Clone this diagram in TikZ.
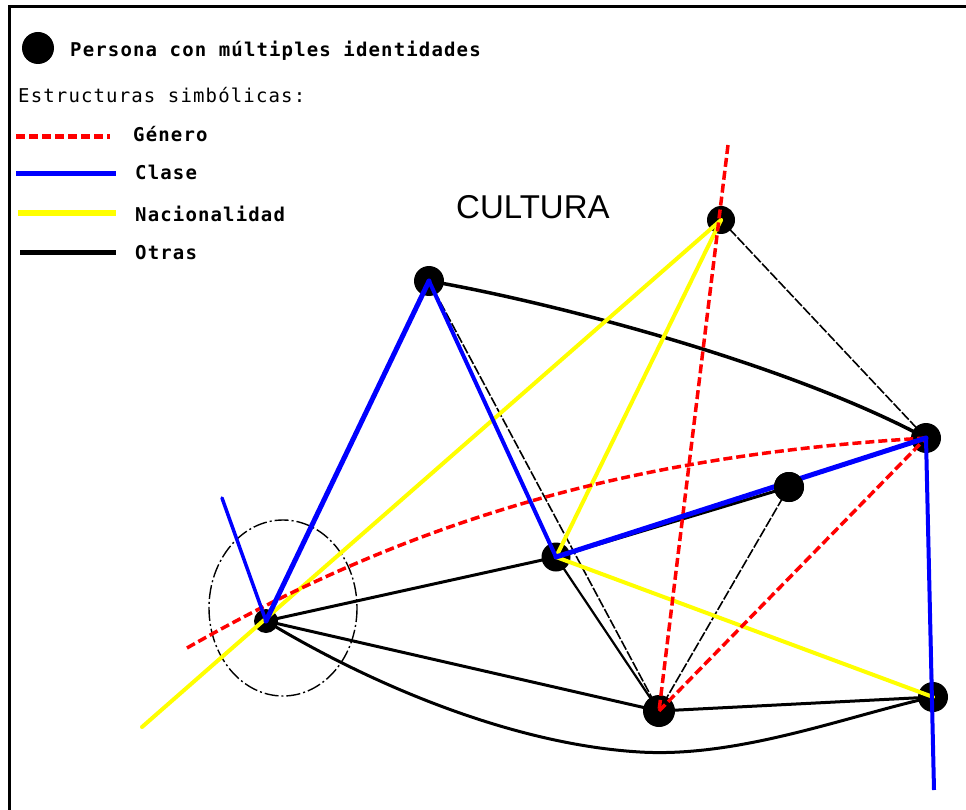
\documentclass[tikz,border=0pt]{standalone}
\usepackage{fontspec}
\newfontfamily\monof[LetterSpace=6]{DejaVu Sans Mono}
\newfontfamily\sansf{Liberation Sans}
\definecolor{gred}{RGB}{255,0,0}
\definecolor{cblue}{RGB}{0,0,255}
\definecolor{nyel}{RGB}{255,255,0}
\tikzset{
  person/.style={circle,fill=black,inner sep=0pt,minimum size=30pt},
  genero/.style={gred,line width=3.5pt,dash pattern=on 9pt off 4pt},
  clase/.style={cblue,line width=4.5pt,line cap=round},
  nacion/.style={nyel,line width=4pt,line cap=round},
  otras/.style={black,line width=3pt},
  otrasthin/.style={black,line width=1.6pt,dash pattern=on 10pt off 2pt},
  legtext/.style={anchor=base west,inner sep=0pt,font=\monof\fontsize{19}{19}\selectfont},
  legbold/.style={anchor=base west,inner sep=0pt,font=\monof\bfseries\fontsize{19}{19}\selectfont}
}
\begin{document}
\begin{tikzpicture}[x=1pt,y=-1pt]
\useasboundingbox (0,0) rectangle (966,810);
\fill[white] (0,0) rectangle (966,810);
% frame
\draw[line width=2.5pt] (9.5,810) -- (9.5,6.5) -- (966,6.5);

% legend
\node[person,minimum size=32pt] (legdot) at (38,48) {};
\node[legbold] (legp) at (70,57) {Persona con múltiples identidades};
\node[legtext] (leges) at (18,103) {Estructuras simbólicas:};
\draw[genero,line width=5pt] (16,137) -- (110,137);
\node[legbold] (lgen) at (133,142) {Género};
\draw[clase,line width=5pt,line cap=butt] (16,174) -- (116,174);
\node[legbold] (lcla) at (135,180) {Clase};
\draw[nacion,line width=6pt,line cap=butt] (18,213) -- (116,213);
\node[legbold] (lnac) at (135,222) {Nacionalidad};
\draw[black,line width=5pt] (20,253) -- (116,253);
\node[legbold] (lotr) at (135,260) {Otras};

\node[anchor=base west,inner sep=0pt,font=\sansf\fontsize{33}{33}\selectfont] (cult) at (456,219) {CULTURA};

% persons
\node[person,minimum size=24pt] (A) at (266,621) {};
\node[person] (B) at (429,281) {};
\node[person,minimum size=28pt] (C) at (721,220) {};
\node[person] (D) at (926,438) {};
\node[person,minimum size=29pt] (E) at (556,557) {};
\node[person] (F) at (789,487) {};
\node[person,minimum size=32pt] (G) at (659,711) {};
\node[person] (H) at (933,697) {};

% free ends
\coordinate (bstub) at (222,498);
\coordinate (bend) at (934,790);
\coordinate (yst) at (142,727);
\coordinate (rst) at (187,648);
\coordinate (rtop) at (728,145);

% ellipse around A
\draw[black,line width=1.4pt,dash pattern=on 14pt off 3pt on 2pt off 3pt] (283,608) ellipse [x radius=74,y radius=88];

% otras (black)
\draw[otras,line width=3.5pt] (B.center) .. controls (540,300) and (780,360) .. (D.center);
\draw[otrasthin] (B.center) -- (G.center);
\draw[otrasthin] (C.center) -- (D.center);
\draw[otrasthin] (F.center) -- (G.center);
\draw[otras] (A.center) -- (E.center);
\draw[otras] (E.center) -- (F.center);
\draw[otras,line width=2.2pt] (E.center) -- (G.center);
\draw[otras] (A.center) -- (G.center);
\draw[otras] (A.center) .. controls (380,690) and (520,745) .. (640,752) .. controls (740,758) and (850,715) .. (H.center);
\draw[otras] (G.center) -- (H.center);
\draw[otras,line width=1.2pt] (D.center) -- (H.center);

% nacionalidad (yellow)
\draw[nacion] (yst) -- (C.center);
\draw[nacion] (E.center) -- (C.center);
\draw[nacion] (E.center) -- (H.center);

% genero (red dashed)
\draw[genero] (rst) .. controls (420,515) and (640,455) .. (D.center);
\draw[genero] (rtop) -- (G.center);
\draw[genero] (G.center) -- (D.center);

% clase (blue)
\draw[clase,line width=3.5pt] (bstub) -- (A.center);
\draw[clase,line width=5pt] (A.center) -- (B.center);
\draw[clase,line width=4pt] (B.center) -- (E.center);
\draw[clase,line width=5pt] (E.center) -- (D.center);
\draw[clase,line width=4pt,line cap=butt] (D.center) -- (bend);

% F dot on top of blue line
\fill[black] (F.center) circle (15pt);
\end{tikzpicture}
\end{document}
